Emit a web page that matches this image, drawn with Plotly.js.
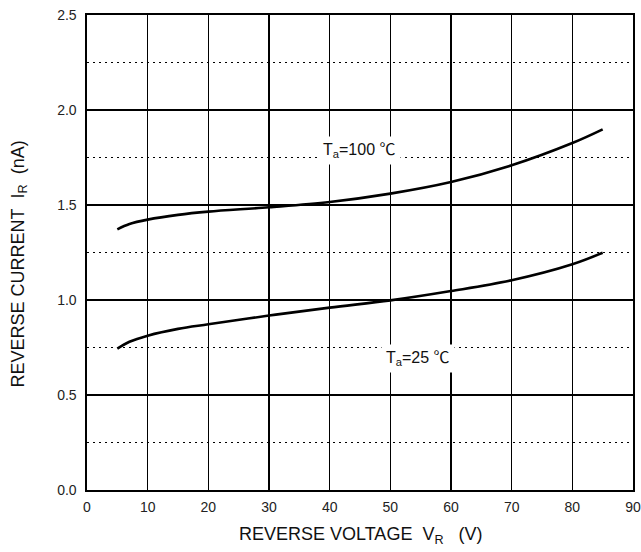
<!DOCTYPE html>
<html>
<head>
<meta charset="utf-8">
<script src="https://cdn.plot.ly/plotly-3.0.1.min.js"></script>
<style>html,body{margin:0;padding:0;background:#fff;}#chart{width:641px;height:552px;}</style>
</head>
<body>
<div id="chart"></div>
<script>
// Reverse voltage (V)
var voltage = [5, 7, 10, 15, 20, 30, 40, 50, 60, 70, 80, 85];
// Reverse current at Ta = 100 C (nA)
var current100 = [1.372, 1.400, 1.423, 1.448, 1.465, 1.488, 1.516, 1.560, 1.621, 1.709, 1.826, 1.898];
// Reverse current at Ta = 25 C (nA)
var current25 = [0.744, 0.780, 0.812, 0.848, 0.872, 0.918, 0.960, 0.998, 1.047, 1.104, 1.188, 1.249];
var xTicks = [0, 10, 20, 30, 40, 50, 60, 70, 80, 90];
var yTicks = [0.0, 0.5, 1.0, 1.5, 2.0, 2.5];
var yTickText = ['0.0', '0.5', '1.0', '1.5', '2.0', '2.5'];

var FONT = 'Liberation Sans, Arial, Noto Sans CJK SC, sans-serif';
var L = 87, R = 8, T = 15, B = 62, W = 641, H = 552;
var pw = W - L - R, ph = H - T - B;
function px(x) { return (x - L) / pw; }
function py(y) { return (H - B - y) / ph; }

var lineStyle = {color: '#000', width: 2.6, shape: 'spline', smoothing: 1.0};
var traces = [
  {x: voltage, y: current100, mode: 'lines', line: lineStyle, hoverinfo: 'skip'},
  {x: voltage, y: current25, mode: 'lines', line: lineStyle, hoverinfo: 'skip'}
];

var layout = {
  width: W, height: H,
  margin: {l: L, r: R, t: T, b: B},
  paper_bgcolor: '#fff', plot_bgcolor: '#fff',
  showlegend: false,
  font: {family: FONT, size: 14, color: '#222'},
  xaxis: {
    range: [0, 90], tickvals: xTicks, ticktext: xTicks.map(String),
    showgrid: true, gridcolor: '#000', gridwidth: 1.2,
    zeroline: false, showline: true, mirror: true, linecolor: '#000', linewidth: 1.6,
    ticks: '', ticklabelstandoff: 4,
    tickfont: {family: FONT, size: 14, color: '#222'},
    fixedrange: true
  },
  yaxis: {
    range: [0, 2.5], tickvals: yTicks, ticktext: yTickText,
    showgrid: true, gridcolor: '#000', gridwidth: 1.2,
    minor: {dtick: 0.25, showgrid: true, gridcolor: '#000', gridwidth: 1, griddash: '1.5px,4.5px'},
    zeroline: false, showline: true, mirror: true, linecolor: '#000', linewidth: 1.6,
    ticks: '', ticklabelstandoff: 6,
    tickfont: {family: FONT, size: 14, color: '#222'},
    fixedrange: true
  },
  annotations: [
    {xref: 'x', yref: 'y', x: 44.9, y: 1.785, showarrow: false,
     text: 'T<sub>a</sub>=100 ℃', font: {family: FONT, size: 16, color: '#111'},
     bgcolor: '#fff', borderpad: 4},
    {xref: 'x', yref: 'y', x: 54.5, y: 0.69, showarrow: false,
     text: 'T<sub>a</sub>=25 ℃', font: {family: FONT, size: 16, color: '#111'},
     bgcolor: '#fff', borderpad: 4},
    {xref: 'paper', yref: 'paper', x: px(237), y: py(535), xanchor: 'left', yanchor: 'middle',
     showarrow: false,
     text: 'REVERSE VOLTAGE&nbsp;&nbsp;V<sub>R</sub>&nbsp;&nbsp;&nbsp;(V)',
     font: {family: FONT, size: 18, color: '#111'}},
    {xref: 'paper', yref: 'paper', x: px(19), y: py(390), xanchor: 'center', yanchor: 'bottom',
     showarrow: false, textangle: -90,
     text: 'REVERSE CURRENT&nbsp;&nbsp;I<sub>R</sub>&nbsp;&nbsp;(nA)',
     font: {family: FONT, size: 18, color: '#111'}}
  ]
};

Plotly.newPlot('chart', traces, layout, {displayModeBar: false, staticPlot: true});
</script>
</body>
</html>
